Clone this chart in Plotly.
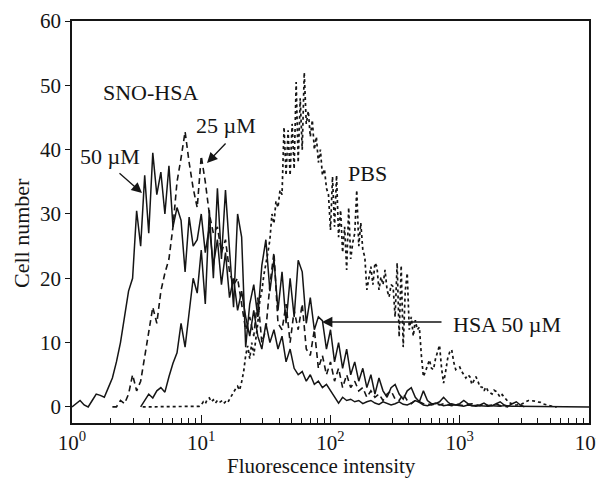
import plotly.graph_objects as go

# ---------------- data ----------------
# Histograms on a log channel grid: x = 10 ** (channel / channels_per_decade)
SOLID_CH_PER_DECADE = 32
PBS_CH_PER_DECADE = 64

SNO50_START = 0
SNO50_COUNTS = [
    0, 0.5, 1, 0.3, 0, 1, 2, 1.8, 1.5, 3,
    4.5, 7, 10, 14, 18, 20, 30.5, 25, 36, 27,
    39.5, 33, 36.5, 30, 37.5, 28, 31, 29, 21, 29.5,
    25, 26, 30, 24, 28, 22, 26, 19, 24, 17,
    20, 15, 18, 14, 11, 15, 11, 9, 13, 10,
    12, 9, 11, 7, 9, 6, 5, 5.5, 4, 5,
    3.5, 4, 3, 3.5, 2.5, 1.5, 0.6, 1.5, 1, 1.2,
    0.8, 1, 0.5, 0.8, 1, 0.6, 0.4, 0.8, 0.5, 0.3,
    0.5, 0.8, 0.4, 0.3, 0.6, 1.0, 0.7, 0.3, 0.2, 0.4,
    0.6, 0.4, 0.2, 0.3, 0.5, 0.3, 0.2, 0.1, 0.3, 0.2,
    0.1, 0.2, 0.1, 0.1, 0.2, 0.1, 0.1, 0.2, 0.1, 0.1,
    0.1, 0.1, 0.1, 0.1, 0.1, 0.1, 0.1, 0.1, 0.1, 0.1,
    0.1, 0.1, 0.1, 0, 0, 0, 0, 0, 0,
]

SNO25_START = 10
SNO25_COUNTS = [
    0, 0, 1, 0.5, 2, 5, 2.5, 4, 7.8, 11.5,
    15.5, 13, 18, 20.8, 23, 28, 35, 38.7, 42.8, 38,
    34, 31, 39, 35, 30, 27, 28, 24, 26, 21,
    19, 20, 16, 12, 14, 11, 17, 10, 12, 19,
    24, 13, 12, 16, 10, 15, 12, 16, 9, 8,
    12, 6, 8, 5, 7, 4, 6, 3, 5, 3,
    4, 2.5, 3, 1.5, 2.5, 1.5, 2, 1, 2, 2.5,
    1.2, 1, 2, 1, 0.5, 1, 0.8, 0.5, 0.5, 0.3,
    0.5, 0.3, 0.5, 0.3, 0.2, 0.4, 0.3, 0.2, 0.4, 0.5,
    0.3, 0.2, 0.4, 0.2, 0.3, 0.5, 0.2, 0.1, 0,
]

HSA50_START = 17
HSA50_COUNTS = [
    0, 1, 2, 1.4, 2.5, 3, 2.3, 4.7, 6.8, 8.4,
    13, 9.3, 15, 20, 17.7, 24.4, 16, 30.6, 20, 34,
    23, 33.7, 24.4, 15.5, 30, 26.4, 9.3, 16, 19, 14,
    22, 26, 18, 23, 15, 21, 13, 20, 14, 22.8,
    21, 13, 17, 12, 14, 13.4, 9, 12, 7, 10,
    6, 9, 5, 7, 4, 6, 3, 5, 2, 4.5,
    2.5, 1.5, 3, 3.5, 2, 1.2, 2.5, 3, 1.5, 0.8,
    2.5, 1, 0.5, 0.5, 0.8, 1.5, 0.8, 0.3, 0.3, 0.5,
    1, 0.5, 0.2, 0.3, 0.3, 0.6, 0.2, 0.2, 0.5, 0.8,
    0.3, 0.1, 0.5, 0.8, 0.3, 0,
]

PBS_START = 35
PBS_COUNTS = [
    0, 0, 0, 0, 0, 0, 0, 0, 0, 0, 0, 0, 0, 0, 0, 0, 0, 0, 0, 0,
    0, 0, 0, 0, 0, 0, 0, 0, 0.1,
    0.3, 0.8, 0.5, 1.2, 1.4, 0.8, 1.1, 0.6, 1.0, 0.7, 0.9, 0.5, 0.8, 0.6, 1.2, 1.8,
    2.3, 2.8, 3.2, 2.6, 3.9, 5.5, 8, 9.5, 7.5, 10, 8, 10.5, 13, 16.6, 18, 20.5,
    22, 24, 26, 30, 28.5, 32, 31, 33.7, 33, 43.5, 36, 43, 36, 44, 37, 50.5,
    38, 48, 40, 52, 44, 46, 42, 44.6, 40, 42, 38, 40, 36, 37, 34, 33,
    27.5, 35.8, 28, 36, 26.4, 30.6, 24, 28, 21.3, 31, 23, 25.5, 27, 33.7, 25, 28.6,
    24.4, 23.3, 18.2, 20, 21.8, 19, 22.4, 21.8, 18.2, 20.2, 19, 21.3, 18.2, 17.1, 19, 18.7,
    14, 22.4, 10.9, 22, 9.3, 18, 20.8, 12, 14, 11, 13.5, 12, 12.4, 8, 4.7, 5.5,
    6.5, 7.3, 6, 5.8, 7.5, 8.5, 9.6, 6, 3.7, 5.5, 7.5, 8.5, 8.9, 7, 5.8, 6,
    6.2, 5.5, 5, 4.5, 5, 4.7, 3.5, 4.2, 4.7, 4, 3.1, 3.1, 2.5, 3.1, 2.5, 2.2,
    2.0, 2.6, 2.4, 2.0, 1.5, 1.9, 1.5, 1.1, 0.8, 0.6, 0.4, 0.3, 0.3, 0.3, 0.4, 0.5,
    0.7, 0.9, 1.0, 1.0, 1.0, 0.9, 0.8, 0.8, 0.7, 0.5, 0.4, 0.3, 0.2, 0.1, 0.1, 0, 0,
]

X_TICK_VALUES = [1, 10, 100, 1000, 10000]
X_TICK_TEXT = ["10<sup>0</sup>", "10<sup>1</sup>", "10<sup>2</sup>", "10<sup>3</sup>", "10<sup>4</sup>"]
Y_TICK_VALUES = [0, 10, 20, 30, 40, 50, 60]
X_TITLE = "Fluorescence intensity"
Y_TITLE = "Cell number"


def channel_x(start, n, per_decade):
    return [10 ** ((start + i) / per_decade) for i in range(n)]


FONT = "Liberation Serif, Times New Roman, serif"
INK = "#151515"

fig = go.Figure()

fig.add_trace(go.Scatter(
    x=channel_x(PBS_START, len(PBS_COUNTS), PBS_CH_PER_DECADE), y=PBS_COUNTS,
    mode="lines", line=dict(color=INK, width=1.7, dash="dot"), name="PBS"))
fig.add_trace(go.Scatter(
    x=channel_x(HSA50_START, len(HSA50_COUNTS), SOLID_CH_PER_DECADE), y=HSA50_COUNTS,
    mode="lines", line=dict(color=INK, width=1.5), name="HSA 50 µM"))
fig.add_trace(go.Scatter(
    x=channel_x(SNO25_START, len(SNO25_COUNTS), SOLID_CH_PER_DECADE), y=SNO25_COUNTS,
    mode="lines", line=dict(color=INK, width=1.6, dash="6px,4px"), name="SNO-HSA 25 µM"))
fig.add_trace(go.Scatter(
    x=channel_x(SNO50_START, len(SNO50_COUNTS), SOLID_CH_PER_DECADE), y=SNO50_COUNTS,
    mode="lines", line=dict(color=INK, width=1.5), name="SNO-HSA 50 µM"))

# Plot area in window pixels; the page body adds an 8 px offset to the figure.
L, R, T, B = 72, 589, 21, 423
PAGE_OFFSET = 8
W, H = 604, 481


def px(xp):
    return (xp - L) / (R - L)


def py(yp):
    return (B - yp) / (B - T)


ann = []
txt = dict(showarrow=False, xref="paper", yref="paper", xanchor="center", yanchor="middle",
           font=dict(family=FONT, size=22, color=INK))
ann.append(dict(text="SNO-HSA", x=px(150), y=py(93), **txt))
ann.append(dict(text="50 µM", x=px(110), y=py(156), **txt))
ann.append(dict(text="25 µM", x=px(226), y=py(125), **txt))
ann.append(dict(text="PBS", x=px(367), y=py(173), **txt))
ann.append(dict(text="HSA 50 µM", x=px(507), y=py(324), **txt))

# axis titles
ann.append(dict(text=X_TITLE, showarrow=False, xref="paper", yref="paper",
                xanchor="center", yanchor="middle", x=px(321), y=py(466),
                font=dict(family=FONT, size=21, color=INK)))
ann.append(dict(text=Y_TITLE, showarrow=False, xref="paper", yref="paper",
                xanchor="center", yanchor="middle", x=px(21), y=py(233), textangle=-90,
                font=dict(family=FONT, size=22, color=INK)))

arr = dict(text="", showarrow=True, xref="paper", yref="paper", axref="pixel", ayref="pixel",
           arrowhead=2, arrowsize=1.6, arrowwidth=1.3, arrowcolor=INK)
ann.append(dict(x=px(142), y=py(193), ax=-24, ay=-21, **arr))
ann.append(dict(x=px(207), y=py(163), ax=20, ay=-21, **arr))
ann.append(dict(x=px(322), y=py(322), ax=121, ay=0, **arr))

minor_vals = [m * 10 ** d for d in range(4) for m in range(2, 10)]

fig.update_layout(
    width=W, height=H,
    margin=dict(l=L - PAGE_OFFSET, r=W - (R - PAGE_OFFSET), t=T - PAGE_OFFSET,
                b=H - (B - PAGE_OFFSET), autoexpand=False),
    paper_bgcolor="white", plot_bgcolor="white",
    showlegend=False,
    font=dict(family=FONT, color=INK),
    annotations=ann,
    xaxis=dict(
        type="log", range=[0, 4], automargin=False,
        showline=True, mirror=True, linecolor=INK, linewidth=1.5,
        showgrid=False, zeroline=False,
        ticks="inside", ticklen=8, tickwidth=1.2, tickcolor=INK,
        tickvals=X_TICK_VALUES, ticktext=X_TICK_TEXT,
        tickfont=dict(family=FONT, size=21, color=INK),
        minor=dict(ticks="inside", ticklen=5, tickwidth=1.1, tickcolor=INK,
                   tickvals=minor_vals, showgrid=False),
    ),
    yaxis=dict(
        range=[-2.5, 60], automargin=False,
        showline=True, mirror=True, linecolor=INK, linewidth=1.5,
        showgrid=False, zeroline=False,
        ticks="outside", ticklen=5, tickwidth=1.2, tickcolor=INK,
        tickvals=Y_TICK_VALUES,
        tickfont=dict(family=FONT, size=21, color=INK),
    ),
)

fig.write_html("out.html")
